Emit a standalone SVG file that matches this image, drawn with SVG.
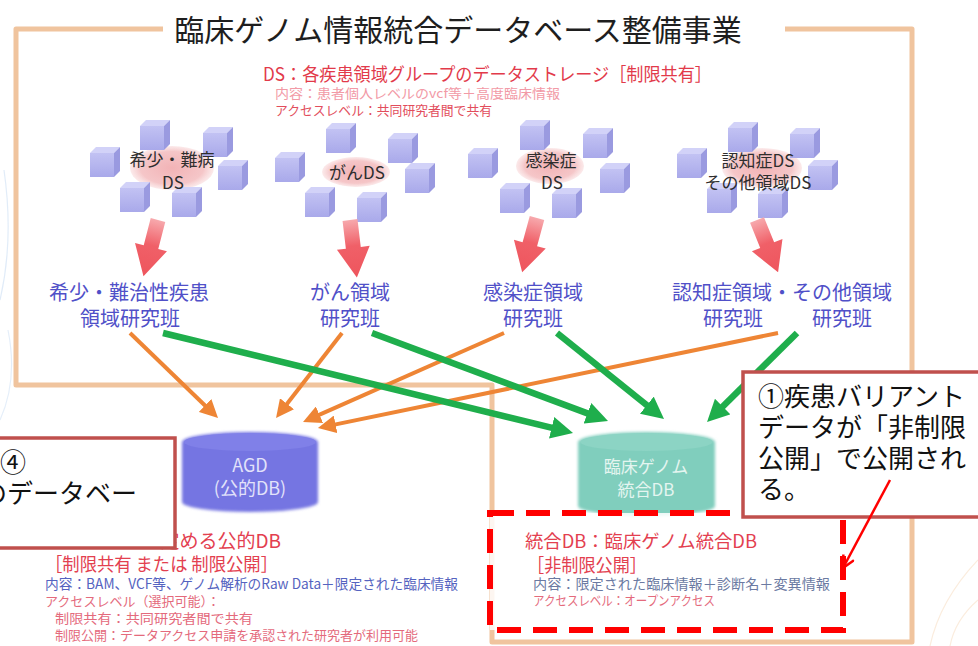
<svg xmlns="http://www.w3.org/2000/svg" width="978" height="646" viewBox="0 0 978 646">
  <defs>
    <style>
      text { font-family: "Noto Sans CJK JP", "Noto Sans", sans-serif; }
      .title { font-size: 30px; fill: #1e1e1e; }
      .ds-head { font-size: 18px; fill: #e23a4a; }
      .note-pk { font-size: 13px; fill: #f29aa6; }
      .note-rd { font-size: 13px; fill: #e24d5c; }
      .cl { font-size: 17px; fill: #2e2e2e; text-anchor: middle; }
      .lbl { font-size: 20px; fill: #5050c8; text-anchor: middle; }
      .db { font-size: 18px; text-anchor: middle; }
      .red-h { font-size: 18px; fill: #e3404f; }
      .blue-s { font-size: 14px; fill: #5563c0; }
      .grey-s { font-size: 14px; fill: #6b7aa2; }
      .pink-s { font-size: 13px; fill: #e46a7c; }
      .callout { font-size: 26px; fill: #111; }
      .frame { fill: none; stroke: #f0c49e; stroke-width: 5; stroke-linejoin: round; }
      .green { stroke: #1fae4c; stroke-width: 6.5; fill: none; }
      .orange { stroke: #ee8535; stroke-width: 4; fill: none; }
      .box { fill: #ffffff; stroke: #c0504d; stroke-width: 3.5; }
    </style>
    <marker id="headG" viewBox="0 0 22 22" markerUnits="userSpaceOnUse" markerWidth="22" markerHeight="22" refX="8" refY="11" orient="auto">
      <path d="M0,0 L22,11 L0,22 Z" fill="#1fae4c"/>
    </marker>
    <marker id="headO" viewBox="0 0 18 18" markerUnits="userSpaceOnUse" markerWidth="18" markerHeight="18" refX="6" refY="9" orient="auto">
      <path d="M0,0 L18,9 L0,18 Z" fill="#ee8535"/>
    </marker>
    <marker id="headR" viewBox="0 0 14 14" markerUnits="userSpaceOnUse" markerWidth="14" markerHeight="14" refX="13" refY="7" orient="auto">
      <path d="M1,1 L13,7 L1,13" fill="none" stroke="#ff0000" stroke-width="2.5"/>
    </marker>
    <linearGradient id="blockGrad" x1="0" y1="0" x2="0" y2="1">
      <stop offset="0" stop-color="#f7a9ad"/>
      <stop offset="0.45" stop-color="#f06068"/>
      <stop offset="1" stop-color="#ee555d"/>
    </linearGradient>
    <radialGradient id="dsGlow">
      <stop offset="0" stop-color="#f2b3b6"/>
      <stop offset="0.75" stop-color="#f5c6c8"/>
      <stop offset="1" stop-color="#f9dcdd" stop-opacity="0.6"/>
    </radialGradient>
    <linearGradient id="cubeFront" x1="0" y1="0" x2="0" y2="1">
      <stop offset="0" stop-color="#c2c2f3"/>
      <stop offset="1" stop-color="#a9a9ea"/>
    </linearGradient>
    <filter id="soft" x="-20%" y="-20%" width="140%" height="140%">
      <feGaussianBlur stdDeviation="0.7"/>
    </filter>
    <filter id="softer" x="-20%" y="-30%" width="140%" height="160%">
      <feGaussianBlur stdDeviation="1.6"/>
    </filter>
    <!-- one storage cube: front, top and right faces -->
    <g id="cube" filter="url(#soft)">
      <path d="M0,6 L6,0 L30,0 L24,6 Z" fill="#d2d2f8"/>
      <path d="M24,6 L30,0 L30,24 L24,30 Z" fill="#9a9ae0"/>
      <rect x="0" y="6" width="24" height="24" fill="url(#cubeFront)"/>
    </g>
    <!-- down-pointing block arrow, tail centre at origin -->
    <path id="blockArrow" d="M-7.5,0 L7.5,0 L7.5,28 L16.5,28 L0,58 L-16.5,28 L-7.5,28 Z" fill="url(#blockGrad)"/>
  </defs>

  <rect x="0" y="0" width="978" height="646" fill="#ffffff"/>

  <!-- faint background swirls at the page edges -->
  <g fill="none" stroke-width="1.2" opacity="0.35">
    <path d="M0,300 Q14,240 4,170" stroke="#a9c8ec"/>
    <path d="M0,420 Q18,380 8,330" stroke="#b5d0ef"/>
    <path d="M978,560 Q940,600 930,646" stroke="#f3caa0"/>
    <path d="M978,600 Q955,620 950,646" stroke="#f3caa0"/>
  </g>

  <!-- project frame -->
  <path class="frame" d="M163,29 L16,29 L16,385 L492,385 L492,642 L912,642 L912,29 L785,29"/>

  <text class="title" x="458" y="41" text-anchor="middle">臨床ゲノム情報統合データベース整備事業</text>

  <g id="ds-legend">
    <text class="ds-head" x="263" y="81" textLength="449" lengthAdjust="spacingAndGlyphs">DS：各疾患領域グループのデータストレージ［制限共有］</text>
    <text class="note-pk" x="275" y="98" textLength="285" lengthAdjust="spacingAndGlyphs">内容：患者個人レベルのvcf等＋高度臨床情報</text>
    <text class="note-rd" x="275" y="115" textLength="217" lengthAdjust="spacingAndGlyphs">アクセスレベル：共同研究者間で共有</text>
  </g>

  <!-- data storage clusters -->
  <g id="ds-rare">
    <ellipse cx="172" cy="168" rx="42" ry="22" fill="url(#dsGlow)" filter="url(#soft)"/>
    <use href="#cube" x="140" y="120"/>
    <use href="#cube" x="203" y="127"/>
    <use href="#cube" x="90" y="147"/>
    <use href="#cube" x="218" y="160"/>
    <use href="#cube" x="120" y="182"/>
    <use href="#cube" x="172" y="187"/>
    <text class="cl"><tspan x="172" y="166">希少・難病</tspan><tspan x="173" y="189">DS</tspan></text>
  </g>
  <g id="ds-cancer">
    <ellipse cx="356" cy="172" rx="34" ry="15" fill="url(#dsGlow)" filter="url(#soft)"/>
    <use href="#cube" x="275" y="152"/>
    <use href="#cube" x="326" y="123"/>
    <use href="#cube" x="388" y="133"/>
    <use href="#cube" x="405" y="163"/>
    <use href="#cube" x="305" y="187"/>
    <use href="#cube" x="357" y="192"/>
    <text class="cl" x="357" y="179">がんDS</text>
  </g>
  <g id="ds-infection">
    <ellipse cx="550" cy="166" rx="34" ry="18" fill="url(#dsGlow)" filter="url(#soft)"/>
    <use href="#cube" x="468" y="148"/>
    <use href="#cube" x="520" y="120"/>
    <use href="#cube" x="583" y="128"/>
    <use href="#cube" x="600" y="163"/>
    <use href="#cube" x="500" y="183"/>
    <use href="#cube" x="552" y="188"/>
    <text class="cl"><tspan x="551" y="167">感染症</tspan><tspan x="552" y="189">DS</tspan></text>
  </g>
  <g id="ds-dementia">
    <ellipse cx="762" cy="168" rx="40" ry="20" fill="url(#dsGlow)" filter="url(#soft)"/>
    <use href="#cube" x="677" y="148"/>
    <use href="#cube" x="728" y="122"/>
    <use href="#cube" x="790" y="128"/>
    <use href="#cube" x="808" y="160"/>
    <use href="#cube" x="707" y="183"/>
    <use href="#cube" x="758" y="188"/>
    <text class="cl"><tspan x="758" y="167">認知症DS</tspan><tspan x="758" y="189">その他領域DS</tspan></text>
  </g>

  <!-- storage to research group arrows -->
  <g id="ds-arrows">
    <use href="#blockArrow" transform="translate(158,220) rotate(14.5)"/>
    <use href="#blockArrow" transform="translate(350,220) rotate(-6.8)"/>
    <use href="#blockArrow" transform="translate(537,218) rotate(15.3) scale(1,0.97)"/>
    <use href="#blockArrow" transform="translate(757,220) rotate(-22) scale(1,0.97)"/>
  </g>

  <!-- research groups -->
  <g id="group-rare">
    <text class="lbl"><tspan x="129" y="300">希少・難治性疾患</tspan><tspan x="130" y="326">領域研究班</tspan></text>
  </g>
  <g id="group-cancer">
    <text class="lbl"><tspan x="350" y="300">がん領域</tspan><tspan x="350" y="326">研究班</tspan></text>
  </g>
  <g id="group-infection">
    <text class="lbl"><tspan x="533" y="300">感染症領域</tspan><tspan x="533" y="326">研究班</tspan></text>
  </g>
  <g id="group-dementia">
    <text class="lbl"><tspan x="782" y="300">認知症領域・その他領域</tspan><tspan x="733" y="326">研究班</tspan><tspan x="842" y="326">研究班</tspan></text>
  </g>

  <!-- submissions to the two databases -->
  <g id="connectors">
    <line class="orange" x1="130" y1="333" x2="209.4" y2="409.7" marker-end="url(#headO)"/>
    <line class="orange" x1="342" y1="333" x2="283.4" y2="408.5" marker-end="url(#headO)"/>
    <line class="orange" x1="504" y1="333" x2="314" y2="417.2" marker-end="url(#headO)"/>
    <line class="orange" x1="778" y1="333" x2="329.7" y2="425.6" marker-end="url(#headO)"/>
    <line class="green" x1="163" y1="333" x2="559.4" y2="429.7" marker-end="url(#headG)"/>
    <line class="green" x1="372" y1="333" x2="594.9" y2="416.1" marker-end="url(#headG)"/>
    <line class="green" x1="557" y1="333" x2="653.1" y2="410.2" marker-end="url(#headG)"/>
    <line class="green" x1="797" y1="333" x2="717" y2="412.2" marker-end="url(#headG)"/>
  </g>

  <!-- AGD public database -->
  <g id="db-agd">
    <path d="M182,442 A68,10 0 0,1 318,442 L318,502 A68,10 0 0,1 182,502 Z" fill="#7474e2" filter="url(#softer)"/>
    <ellipse cx="250" cy="442" rx="66" ry="9" fill="#8080e8" filter="url(#soft)"/>
    <text class="db" fill="#e2e2fa"><tspan x="250" y="472">AGD</tspan><tspan x="250" y="495">(公的DB)</tspan></text>
  </g>

  <!-- integrated clinical genome database -->
  <g id="db-clinical">
    <path d="M578,442 A68.5,10 0 0,1 715,442 L715,506 A68.5,10 0 0,1 578,506 Z" fill="#80cebd" filter="url(#softer)"/>
    <ellipse cx="646.5" cy="442" rx="66" ry="9" fill="#8cd4c4" filter="url(#soft)"/>
    <text class="db" fill="#e4f5f0" style="font-size:17px"><tspan x="646" y="473">臨床ゲノム</tspan><tspan x="646" y="496">統合DB</tspan></text>
  </g>

  <!-- AGD description -->
  <g id="agd-notes">
    <text class="red-h" x="281" y="548" text-anchor="end" style="font-size:19px">定める公的DB</text>
    <text class="red-h" x="45" y="571" textLength="233" lengthAdjust="spacingAndGlyphs">［制限共有 または 制限公開］</text>
    <text class="blue-s" x="45" y="589" textLength="413" lengthAdjust="spacingAndGlyphs">内容：BAM、VCF等、ゲノム解析のRaw Data＋限定された臨床情報</text>
    <text class="pink-s" x="45" y="606" textLength="175" lengthAdjust="spacingAndGlyphs">アクセスレベル（選択可能）：</text>
    <text class="pink-s" x="55" y="623" textLength="198" lengthAdjust="spacingAndGlyphs">制限共有：共同研究者間で共有</text>
    <text class="pink-s" x="55" y="640" textLength="363" lengthAdjust="spacingAndGlyphs">制限公開：データアクセス申請を承認された研究者が利用可能</text>
  </g>

  <!-- left annotation box (text runs past the page edge) -->
  <g id="note-left">
    <rect class="box" x="-10" y="438" width="185" height="110"/>
    <text class="callout"><tspan x="0" y="472">④</tspan><tspan x="-19" y="503">のデータベー</tspan></text>
  </g>

  <!-- integrated DB description in dashed highlight -->
  <g id="clinical-notes">
    <rect x="490" y="513" width="353" height="117" fill="#ffffff" fill-opacity="0.85" stroke="#ff0000" stroke-width="6" stroke-dasharray="24 12"/>
    <text class="red-h" x="525" y="548" textLength="232" lengthAdjust="spacingAndGlyphs">統合DB：臨床ゲノム統合DB</text>
    <text class="red-h" x="527" y="572" textLength="120" lengthAdjust="spacingAndGlyphs">［非制限公開］</text>
    <text class="grey-s" x="533" y="589" textLength="297" lengthAdjust="spacingAndGlyphs">内容：限定された臨床情報＋診断名＋変異情報</text>
    <text class="pink-s" x="533" y="605" textLength="182" lengthAdjust="spacingAndGlyphs">アクセスレベル：オープンアクセス</text>
  </g>

  <!-- right annotation box -->
  <g id="note-right">
    <rect class="box" x="743" y="372" width="250" height="145"/>
    <text class="callout"><tspan x="758" y="406">①疾患バリアント</tspan><tspan x="758" y="437">データが「非制限</tspan><tspan x="758" y="468">公開」で公開され</tspan><tspan x="758" y="499">る。</tspan></text>
    <line x1="890" y1="480" x2="843" y2="568" stroke="#ff0000" stroke-width="2.5" marker-end="url(#headR)"/>
  </g>
</svg>
